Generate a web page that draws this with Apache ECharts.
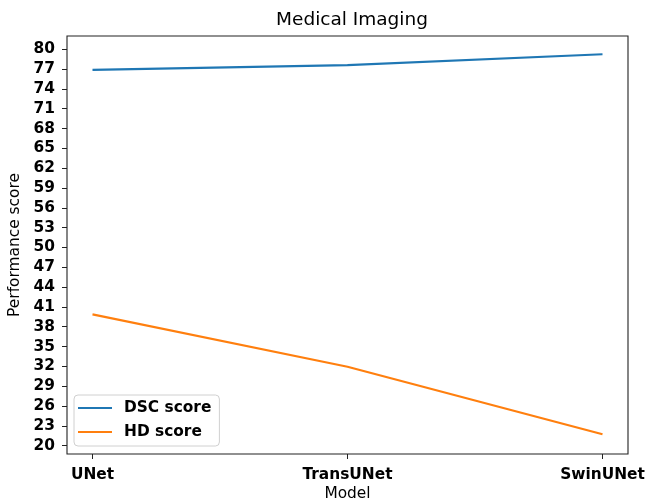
<!DOCTYPE html>
<html>
<head>
<meta charset="utf-8">
<script src="https://cdn.jsdelivr.net/npm/echarts@6/dist/echarts.min.js"></script>
<style>
  html, body { margin: 0; padding: 0; background: #fff; }
  #chart { width: 648px; height: 503px; }
</style>
</head>
<body>
<div id="chart"></div>
<script>
// Models compared along the x axis
const models = ['UNet', 'TransUNet', 'SwinUNet'];
// Scores per model
const dscScore = [76.87, 77.6, 79.24];
const hdScore = [39.87, 31.95, 21.72];
// Y tick labels
const yTicks = [20, 23, 26, 29, 32, 35, 38, 41, 44, 47, 50, 53, 56, 59, 62, 65, 68, 71, 74, 77, 80];

const FONT = 'DejaVu Sans';
const FS = 15.4;
const chart = echarts.init(document.getElementById('chart'), null, { renderer: 'canvas' });

const toPoints = arr => arr.map((v, i) => [i, v]);

chart.setOption({
  animation: false,
  backgroundColor: '#ffffff',
  title: {
    text: 'Medical Imaging',
    left: 347,
    top: 6,
    textAlign: 'center',
    textStyle: { fontFamily: FONT, fontSize: 18.5, fontWeight: 'normal', color: '#000' }
  },
  grid: {
    left: 67, right: 20, top: 36, bottom: 49,
    show: true, borderColor: '#222', borderWidth: 1.1,
    containLabel: false,
    outerBoundsMode: 'none'
  },
  legend: {
    orient: 'vertical',
    left: 74, top: 395,
    backgroundColor: 'rgba(255,255,255,0.8)',
    borderColor: '#d0d0d0', borderWidth: 1, borderRadius: 4,
    padding: [4, 8, 5, 4],
    itemWidth: 34, itemHeight: 2, itemGap: 6,
    icon: 'rect',
    textStyle: { fontFamily: FONT, fontSize: FS, fontWeight: 'bold', color: '#000', lineHeight: 18, padding: [0, 0, 0, 7] },
    data: ['DSC score', 'HD score']
  },
  xAxis: {
    type: 'value',
    min: -0.1, max: 2.1,
    name: 'Model',
    nameLocation: 'middle',
    nameGap: 32,
    nameTextStyle: { fontFamily: FONT, fontSize: FS, color: '#000' },
    axisLine: { show: false, onZero: false },
    splitLine: { show: false },
    axisTick: { show: true, length: 5, customValues: [0, 1, 2], lineStyle: { color: '#222' } },
    axisLabel: {
      customValues: [0, 1, 2],
      margin: 13,
      fontFamily: FONT, fontSize: FS, fontWeight: 'bold', color: '#000',
      formatter: v => models[Math.round(v)] || ''
    }
  },
  yAxis: {
    type: 'value',
    min: 18.74, max: 82.0,
    name: 'Performance score',
    nameLocation: 'middle',
    nameGap: 44,
    nameTextStyle: { fontFamily: FONT, fontSize: FS, color: '#000' },
    axisLine: { show: false, onZero: false },
    splitLine: { show: false },
    axisTick: { show: true, length: 5, customValues: yTicks, lineStyle: { color: '#222' } },
    axisLabel: {
      customValues: yTicks,
      margin: 12,
      fontFamily: FONT, fontSize: FS, fontWeight: 'bold', color: '#000'
    }
  },
  series: [
    {
      name: 'DSC score', type: 'line', data: toPoints(dscScore),
      showSymbol: false, symbol: 'none',
      lineStyle: { color: '#1f77b4', width: 2.2 }, itemStyle: { color: '#1f77b4' }
    },
    {
      name: 'HD score', type: 'line', data: toPoints(hdScore),
      showSymbol: false, symbol: 'none',
      lineStyle: { color: '#ff7f0e', width: 2.2 }, itemStyle: { color: '#ff7f0e' }
    }
  ]
});
</script>
</body>
</html>
